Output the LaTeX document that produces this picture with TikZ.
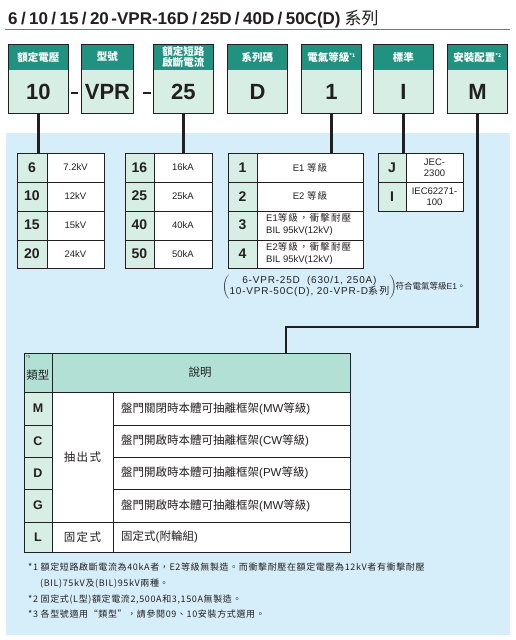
\documentclass[tikz,border=0pt]{standalone}
\usepackage{fontspec}
\setmainfont{Liberation Sans}
\newfontfamily\zh{Noto Sans CJK TC}
\newfontfamily\zhs{Noto Sans CJK TC}[LetterSpace=12]
\newfontfamily\zhf{Noto Sans CJK TC}[LetterSpace=7]
\newfontfamily\ls{Liberation Sans}[LetterSpace=8]
\usetikzlibrary{calc}
\definecolor{hdrbg}{RGB}{34,146,128}
\definecolor{valbg}{RGB}{214,238,228}
\definecolor{bluebg}{RGB}{213,238,250}
\definecolor{hdrtwo}{RGB}{178,224,212}
\definecolor{linec}{RGB}{35,31,32}
\definecolor{rulec}{RGB}{42,157,138}
\definecolor{txt}{RGB}{35,31,32}
\newcommand\zt[1]{{\zhs #1}}
\newcommand\fs[2]{\fontsize{#1}{#2}\selectfont}
\newcommand\tsl{\kern3.4pt/\kern3.4pt}
\tikzset{
 topbox/.style={draw=linec, line width=0.9pt, fill=valbg, minimum height=69pt, inner sep=0pt, anchor=north west,
   path picture={\fill[hdrbg] (path picture bounding box.north west) rectangle ([yshift=-26pt]path picture bounding box.north east);}},
 hdrtext/.style={text=white, font=\zh\bfseries\fs{10.5}{11}, align=center, inner sep=0pt},
 valtext/.style={text=txt, font=\bfseries\fs{22}{22}, inner sep=0pt},
 conn/.style={draw=linec, line width=2.2pt},
 tblbox/.style={draw=linec, line width=0.8pt, fill=white, inner sep=0pt, anchor=north west},
 tline/.style={draw=linec, line width=0.8pt},
 keytext/.style={font=\bfseries\fs{14}{14}, text=txt, inner sep=0pt},
 celltext/.style={font=\fs{9.5}{11}, text=txt, inner sep=0pt, align=center},
 lefttext/.style={font=\fs{9.5}{12}, text=txt, inner sep=0pt, align=left, anchor=west},
 bigtext/.style={font=\zh\fs{11.5}{13}, text=txt, inner sep=0pt},
 bkey/.style={font=\bfseries\fs{12.5}{13}, text=txt, inner sep=0pt},
 foot/.style={font=\zhf\fs{9}{10}, text=txt, inner sep=0pt, anchor=base west},
}
\newcommand\mkbox[5]{%
 \node[topbox, minimum width=#3] (#1) at (#2,44) {};
 \node[hdrtext] (#1h) at ($(#1.north)+(0,13)$) {#4};
 \node[valtext] (#1v) at ($(#1.north)+(0,47.5)$) {#5};
}
\newcommand\tabgrid[6]{%
 \node[tblbox, minimum width={#4-#2}, minimum height={#6-#5}] (#1) at (#2,#5) {};
 \fill[valbg] (#2,#5) rectangle (#3,#6);
 \draw[tline] (#3,#5) -- (#3,#6);
}
\begin{document}
\begin{tikzpicture}[x=1pt,y=-1pt]
\useasboundingbox (0,0) rectangle (515,640);
\fill[white] (0,0) rectangle (515,640);
% title
\node[anchor=base west, inner sep=0pt, text=txt, font=\bfseries\fs{17}{17}] (title) at (8,24)
 {6\tsl10\tsl15\tsl20\kern2.5pt-VPR-16D\tsl25D\tsl40D\tsl50C(D)\kern4pt{\zh\mdseries 系列}};
\draw[rulec, line width=0.8pt] (5,29.5) -- (510,29.5);
% blue background
\fill[bluebg] (6,133) rectangle (510,635);
% top boxes
\mkbox{b1}{8}{60}{額定電壓}{10}
\mkbox{b2}{81}{52}{型號}{VPR}
\mkbox{b3}{153}{60}{額定短路\\啟斷電流}{25}
\mkbox{b4}{227}{60}{系列碼}{D}
\mkbox{b5}{301}{60}{電氣等級\textsuperscript{\fs{5}{5}*1}}{1}
\mkbox{b6}{373}{60}{標準}{I}
\mkbox{b7}{447}{60}{安裝配置\textsuperscript{\fs{5}{5}*2}}{M}
% dashes
\draw[conn] ($(b1.east |- b1v)+(2,1.5)$) -- ($(b2.west |- b1v)+(-3,1.5)$);
\draw[conn] ($(b2.east |- b2v)+(9,1.5)$) -- ($(b3.west |- b2v)+(-2,1.5)$);
% table 1 voltage
\tabgrid{t1}{17}{47}{104}{153}{268}
\foreach \y in {182,211,240} \draw[tline] (17,\y) -- (104,\y);
\draw[tline] (t1.north west) rectangle (t1.south east);
\foreach \k/\v [count=\i] in {6/7.2kV,10/12kV,15/15kV,20/24kV} {
 \node[keytext] (t1k\i) at (32,{153+28.75*(\i-0.5)}) {\k};
 \node[celltext] (t1v\i) at (75.5,{153+28.75*(\i-0.5)}) {\v};
}
% table 2 current
\tabgrid{t2}{125}{154}{212}{153}{268}
\foreach \y in {182,211,240} \draw[tline] (125,\y) -- (212,\y);
\draw[tline] (t2.north west) rectangle (t2.south east);
\foreach \k [count=\i] in {16,25,40,50} {
 \node[keytext] (t2k\i) at (139.5,{153+28.75*(\i-0.5)}) {\k};
 \node[celltext] (t2v\i) at (183,{153+28.75*(\i-0.5)}) {\k kA};
}
% table 3 electrical class
\tabgrid{t3}{228}{257}{363}{153}{268}
\foreach \y in {182,211,240} \draw[tline] (228,\y) -- (363,\y);
\draw[tline] (t3.north west) rectangle (t3.south east);
\foreach \i in {1,2,3,4} \node[keytext] (t3k\i) at (242.5,{153+28.75*(\i-0.5)}) {\i};
\node[celltext] (t3v1) at (310,167.4) {E1 \zt{等級}};
\node[celltext] (t3v2) at (310,196.1) {E2 \zt{等級}};
\node[lefttext] (t3v3) at (266,224.9) {E1\zt{等級，衝擊耐壓}\\BIL 95kV(12kV)};
\node[lefttext] (t3v4) at (266,253.6) {E2\zt{等級，衝擊耐壓}\\BIL 95kV(12kV)};
% table 4 standard
\tabgrid{t4}{378}{406}{463}{153}{211}
\draw[tline] (378,182) -- (463,182);
\draw[tline] (t4.north west) rectangle (t4.south east);
\node[keytext] (t4k1) at (392,167.5) {J};
\node[keytext] (t4k2) at (392,196.5) {I};
\node[celltext] (t4v1) at (434.5,167.5) {JEC-\\2300};
\node[celltext] (t4v2) at (434.5,196.5) {IEC62271-\\100};
% note
\node[anchor=west, inner sep=0pt, text=txt, font=\ls\fs{10}{11}] (note) at (222,287)
 {$\left(\vcenter{\hbox{\def\arraystretch{0.8}\begin{tabular}{@{}c@{}}6-VPR-25D\ \ (630/1, 250A)\\10-VPR-50C(D), 20-VPR-D\zt{系列}\end{tabular}}}\right)$\kern-1pt{\fs{8.5}{10}\zh 符合電氣等級\rmfamily E1\zh 。}};
% connectors
\draw[conn] (b1.south) -- (b1.south |- t1.north);
\draw[conn] (b3.south) -- (b3.south |- t2.north);
\draw[conn] (b5.south) -- (b5.south |- t3.north);
\draw[conn] (b6.south) -- (b6.south |- t4.north);
% bottom table
\node[tblbox, minimum width=326, minimum height=199] (t5) at (24,353) {};
\fill[hdrtwo] (24,353) rectangle (350,392);
\fill[valbg] (24,392) rectangle (52,552);
\draw[tline] (52,353) -- (52,552);
\draw[tline] (113,392) -- (113,552);
\draw[tline] (24,392) -- (350,392);
\foreach \y in {425,457,489} {
  \draw[tline] (113,\y) -- (350,\y);
  \draw[tline] (24,\y) -- (52,\y);
}
\draw[tline] (24,522) -- (350,522);
\draw[tline] (t5.north west) rectangle (t5.south east);
\coordinate (k7) at (286,327);
\draw[conn] (b7.south) |- (k7) -- (k7 |- t5.north);
\node[anchor=north west, inner sep=0pt, text=txt, font=\fs{4}{4}] (t5s) at (26,356) {*3};
\node[bigtext] (t5h1) at (38,375) {類型};
\node[bigtext] (t5h2) at (200,372) {說明};
\foreach \k/\y [count=\i] in {M/408.5,C/441,D/473,G/505.5,L/537}
 \node[bkey] (t5k\i) at (38,\y) {\k};
\node[bigtext, font=\zhs\fs{11.5}{13}] (t5c1) at (82.5,457) {抽出式};
\node[bigtext, font=\zhs\fs{11.5}{13}] (t5c2) at (82.5,537) {固定式};
\node[bigtext, anchor=west] (t5d1) at (121,408.5) {盤門關閉時本體可抽離框架{\rmfamily(MW}等級{\rmfamily)}};
\node[bigtext, anchor=west] (t5d2) at (121,441) {盤門開啟時本體可抽離框架{\rmfamily(CW}等級{\rmfamily)}};
\node[bigtext, anchor=west] (t5d3) at (121,473) {盤門開啟時本體可抽離框架{\rmfamily(PW}等級{\rmfamily)}};
\node[bigtext, anchor=west] (t5d4) at (121,505.5) {盤門開啟時本體可抽離框架{\rmfamily(MW}等級{\rmfamily)}};
\node[bigtext, anchor=west] (t5d5) at (121,537) {固定式{\rmfamily(}附輪組{\rmfamily)}};
% footnotes
\node[foot] (f1) at (28,570) {*1 額定短路啟斷電流為40kA者，E2等級無製造。而衝擊耐壓在額定電壓為12kV者有衝擊耐壓};
\node[foot] (f2) at (40,586) {(BIL)75kV及(BIL)95kV兩種。};
\node[foot] (f3) at (28,602) {*2 固定式(L型)額定電流2,500A和3,150A無製造。};
\node[foot] (f4) at (28,617) {*3 各型號適用“類型”，請參閱09、10安裝方式選用。};
\end{tikzpicture}
\end{document}
